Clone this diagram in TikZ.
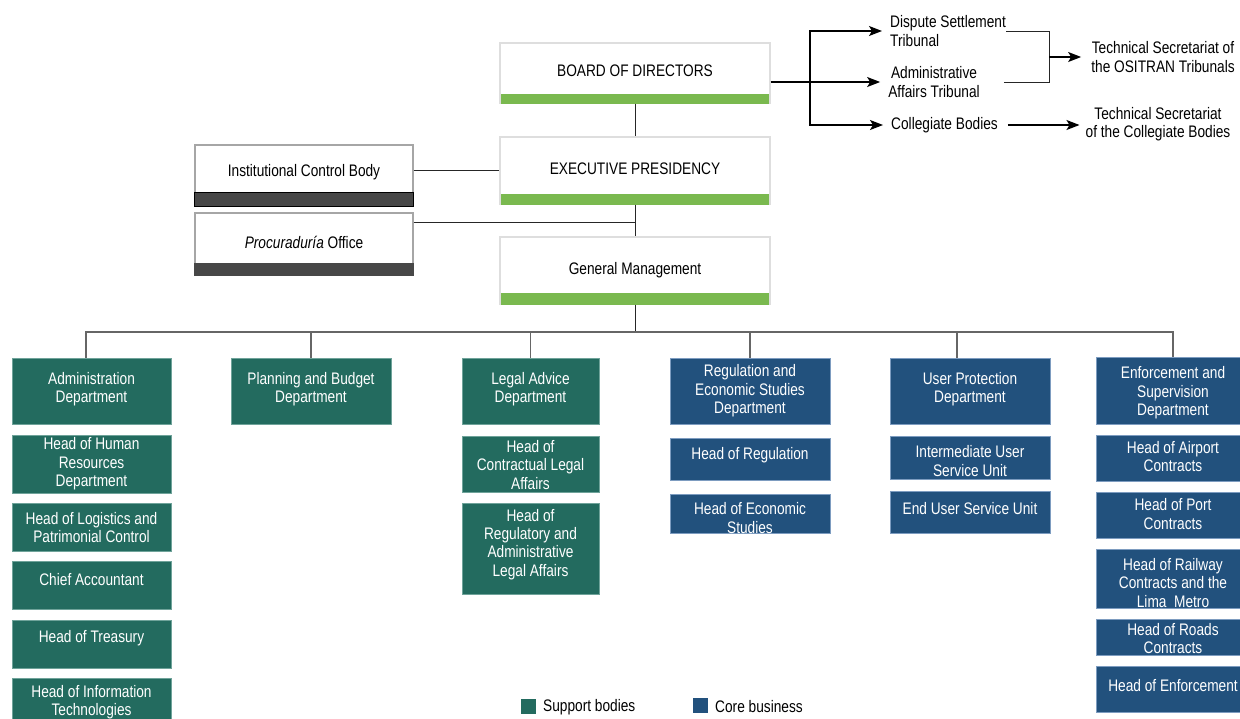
\documentclass[tikz,border=0pt]{standalone}
\usepackage{fontspec}
\setmainfont{Liberation Sans}[FakeStretch=0.82]
\usetikzlibrary{arrows.meta,fit}
\definecolor{stuetz}{HTML}{236B5F}
\definecolor{stuetzrand}{HTML}{6FA39A}
\definecolor{kern}{HTML}{22517D}
\definecolor{kernrand}{HTML}{7D9CC0}
\definecolor{balken}{HTML}{7AB94F}
\definecolor{dunkel}{HTML}{474747}
\definecolor{rahmen}{HTML}{DEDEDE}
\newcommand{\lbl}{\fontsize{16.7}{18.4}\selectfont}
\tikzset{stuetzbox/.style={fill=stuetz,draw=stuetzrand,line width=1pt,inner sep=0},
  kernbox/.style={fill=kern,draw=kernrand,line width=1pt,inner sep=0},
  kopfbox/.style={fill=white,draw=rahmen,line width=1.2pt,inner sep=0},
  seitbox/.style={fill=white,draw=black!35,line width=1.2pt,inner sep=0},
  weiss/.style={text=white,align=center,inner sep=0,font=\lbl},
  schwarz/.style={text=black,align=center,inner sep=0,font=\lbl},
  verbinder/.style={draw=black!85,line width=0.9pt},
  schiene/.style={draw=black!60,line width=1.2pt},
  pfeil/.style={black,line width=1.2pt,-{Stealth[length=13pt,width=10pt,inset=3pt]},shorten >=8pt}}

\begin{document}
\begin{tikzpicture}[x=1pt,y=-1pt]
\clip (0,0) rectangle (1240,718);
% Leitung
\node[kopfbox,fit={(500,43) (770,103)}] (bd) {};
\fill[balken] ([xshift=2]bd.south west) rectangle ([xshift=-2,yshift=10]bd.south east);
\node[schwarz] (bd-t) at (635,71) {BOARD OF DIRECTORS};
\node[kopfbox,fit={(500,137) (770,204)}] (ep) {};
\fill[balken] ([xshift=2]ep.south west) rectangle ([xshift=-2,yshift=11]ep.south east);
\node[schwarz] (ep-t) at (635,169) {EXECUTIVE PRESIDENCY};
\node[kopfbox,fit={(500,237) (770,304)}] (gm) {};
\fill[balken] ([xshift=2]gm.south west) rectangle ([xshift=-2,yshift=12]gm.south east);
\node[schwarz] (gm-t) at (635,270) {General Management};
\node[seitbox,fit={(195,145) (413,206)}] (icb) {};
\filldraw[fill=dunkel,draw=black,line width=1.2pt] (icb.south west) rectangle ([yshift=14]icb.south east);
\node[schwarz] (icb-t) at (304,172) {Institutional Control Body};
\node[seitbox,fit={(195,213) (413,275)}] (proc) {};
\fill[dunkel] (proc.south west) rectangle ([yshift=13]proc.south east);
\node[schwarz] (proc-t) at (304,242) {\textit{Procuraduría} Office};
% Tribunale
\node[schwarz,align=left,anchor=west] (dst) at (890,31) {Dispute Settlement\\Tribunal};
\node[schwarz] (aat) at (934,82) {Administrative\\Affairs Tribunal};
\node[schwarz] (cb) at (944.5,125) {Collegiate Bodies};
\node[schwarz] (tsot) at (1163,57) {Technical Secretariat of\\the OSITRAN Tribunals};
\node[schwarz] (tscb) at (1158,124) {Technical Secretariat\\of the Collegiate Bodies};
% Stuetzbereich
\node[stuetzbox,fit={(12,358) (171,424)}] (adm) {};
\node[weiss] (adm-t) at (91.5,389) {Administration\\Department};
\node[stuetzbox,fit={(12,435) (171,493)}] (hr) {};
\node[weiss] (hr-t) at (91.5,464) {Head of Human\\Resources\\Department};
\node[stuetzbox,fit={(12,503) (171,551)}] (lo) {};
\node[weiss] (lo-t) at (91.5,527.5) {Head of Logistics and\\Patrimonial Control};
\node[stuetzbox,fit={(12,561) (171,609)}] (ca) {};
\node[weiss] (ca-t) at (91.5,580) {Chief Accountant};
\node[stuetzbox,fit={(12,620) (171,668)}] (tr) {};
\node[weiss] (tr-t) at (91.5,638) {Head of Treasury};
\node[stuetzbox,fit={(12,678) (171,730)}] (it) {};
\node[weiss] (it-t) at (91.5,702) {Head of Information\\Technologies};
\node[stuetzbox,fit={(231,358) (391,424)}] (pb) {};
\node[weiss] (pb-t) at (311,389) {Planning and Budget\\Department};
\node[stuetzbox,fit={(462,358) (599,424)}] (la) {};
\node[weiss] (la-t) at (530.5,389) {Legal Advice\\Department};
\node[stuetzbox,fit={(462,436) (599,492)}] (cl) {};
\node[weiss] (cl-t) at (530.5,465) {Head of\\Contractual Legal\\Affairs};
\node[stuetzbox,fit={(462,503) (599,594)}] (ra) {};
\node[weiss] (ra-t) at (530.5,544.3) {Head of\\Regulatory and\\Administrative\\Legal Affairs};
% Kerngeschaeft
\node[kernbox,fit={(670,358) (830,424)}] (re) {};
\node[weiss] (re-t) at (750,390.7) {Regulation and\\Economic Studies\\Department};
\node[kernbox,fit={(670,438) (830,480)}] (hreg) {};
\node[weiss] (hreg-t) at (750,455) {Head of Regulation};
\node[kernbox,fit={(670,494) (830,533)}] (hec) {};
\node[weiss] (hec-t) at (750,518) {Head of Economic\\Studies};
\node[kernbox,fit={(890,358) (1050,424)}] (up) {};
\node[weiss] (up-t) at (970,389) {User Protection\\Department};
\node[kernbox,fit={(890,436) (1050,479)}] (iu) {};
\node[weiss] (iu-t) at (970,461) {Intermediate User\\Service Unit};
\node[kernbox,fit={(890,491) (1050,533)}] (eu) {};
\node[weiss] (eu-t) at (970,509) {End User Service Unit};
\node[kernbox,fit={(1096,357) (1250,424)}] (es) {};
\node[weiss] (es-t) at (1173,392.7) {Enforcement and\\Supervision\\Department};
\node[kernbox,fit={(1096,435) (1250,481)}] (ap) {};
\node[weiss] (ap-t) at (1173,456.5) {Head of Airport\\Contracts};
\node[kernbox,fit={(1096,492) (1250,538)}] (po) {};
\node[weiss] (po-t) at (1173,514) {Head of Port\\Contracts};
\node[kernbox,fit={(1096,549) (1250,608)}] (rw) {};
\node[weiss] (rw-t) at (1173,582.7) {Head of Railway\\Contracts and the\\Lima\ \ Metro};
\node[kernbox,fit={(1096,619) (1250,655)}] (ro) {};
\node[weiss] (ro-t) at (1173,638.5) {Head of Roads\\Contracts};
\node[kernbox,fit={(1096,666) (1250,712)}] (he) {};
\node[weiss] (he-t) at (1173,686) {Head of Enforcement};
% Legende
\node[stuetzbox,draw=none,minimum size=15] (leg-s) at (528.5,706.5) {};
\node[schwarz,anchor=west] (leg-s-t) at (543,707) {Support bodies};
\node[kernbox,draw=none,minimum size=15] (leg-k) at (700.5,705.5) {};
\node[schwarz,anchor=west] (leg-k-t) at (715,707) {Core business};
% Verbindungen
\coordinate (pk) at (635,222);
\coordinate (bus) at (635,332);
\coordinate (gabel) at (810,82);
\coordinate (klammer) at (1049,57);
\draw[verbinder] (bd.south) -- (ep.north);
\draw[verbinder] (ep.south) -- (gm.north);
\draw[verbinder] (icb.east |- ep.west) -- (ep.west);
\draw[verbinder] (pk -| proc.east) -- (pk);
\draw[verbinder] (gm.south) -- (bus);
\foreach \n/\dx in {adm/-5.5,pb/0,la/0,re/0,up/-13,es/0}
  \draw[schiene] ([xshift=\dx]\n.north) |- (bus);
\draw[pfeil] (aat.west -| bd.east) -- (aat.west);
\draw[pfeil] (gabel) |- (dst.west);
\draw[pfeil] (gabel) |- (cb.west);
\draw[verbinder] (dst.east) -| (klammer);
\draw[verbinder] ([xshift=24]aat.east) -| (klammer);
\draw[pfeil,shorten >=10pt] (klammer) -- (klammer -| tsot.west);
\draw[pfeil,shorten <=10pt,shorten >=6pt] (cb.east) -- (cb.east -| tscb.west);
\end{tikzpicture}
\end{document}
